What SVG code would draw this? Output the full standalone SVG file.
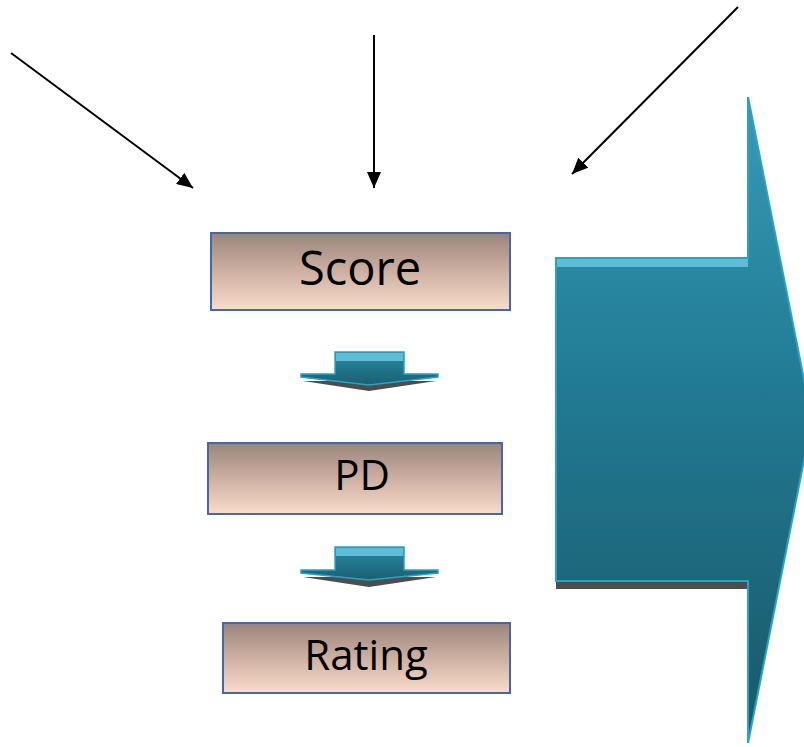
<svg xmlns="http://www.w3.org/2000/svg" width="804" height="747" viewBox="0 0 804 747">
<defs>
<linearGradient id="boxg" x1="0" y1="0" x2="0" y2="1">
<stop offset="0" stop-color="#9a857b"/>
<stop offset="0.5" stop-color="#cdb0a2"/>
<stop offset="1" stop-color="#fadccb"/>
</linearGradient>
<linearGradient id="bigg" gradientUnits="userSpaceOnUse" x1="0" y1="97" x2="0" y2="745">
<stop offset="0" stop-color="#379bb6"/>
<stop offset="0.45" stop-color="#217a93"/>
<stop offset="1" stop-color="#1a5767"/>
</linearGradient>
<linearGradient id="smallg" x1="0" y1="0" x2="0" y2="1">
<stop offset="0" stop-color="#2a8aa4"/>
<stop offset="1" stop-color="#1a5f73"/>
</linearGradient>
<marker id="ah" viewBox="0 0 10 10" refX="9" refY="5" markerWidth="8" markerHeight="8" markerUnits="userSpaceOnUse" orient="auto">
<path d="M0,0 L10,5 L0,10 z" fill="#000"/>
</marker>
<marker id="ah2" viewBox="0 0 16 14" refX="16" refY="7" markerWidth="16" markerHeight="14" markerUnits="userSpaceOnUse" orient="auto">
<path d="M0,0 L16,7 L0,14 z" fill="#000"/>
</marker>
</defs>
<style>
.box{fill:url(#boxg);stroke:#4468a6;stroke-width:2}
.lbl{font-family:"Open Sans","Liberation Sans",sans-serif;fill:#000;text-anchor:middle}
.conn{stroke:#000;stroke-width:2;fill:none;marker-end:url(#ah2)}
.sa{fill:url(#smallg);stroke:#2aa3c3;stroke-width:1.5}
.band{fill:#5fbcd5}
.shadow{fill:#4d4d4d}
</style>

<g id="connectors">
<line class="conn" x1="11" y1="53" x2="193" y2="188"/>
<line class="conn" x1="374" y1="35" x2="374" y2="188"/>
<line class="conn" x1="738" y1="7" x2="572" y2="174"/>
</g>

<g id="big-arrow">
<rect class="shadow" x="556" y="581" width="192" height="8"/>
<polygon points="556,258 748,258 748,97 812,420 748,743 748,581 556,581" fill="url(#bigg)" stroke="#2aa3c3" stroke-width="2" stroke-linejoin="miter"/>
<rect class="band" x="557" y="259" width="191" height="8"/>
</g>

<g id="score">
<rect class="box" x="211" y="233" width="299" height="77"/>
<text class="lbl" x="360" y="285" font-size="47">Score</text>
</g>

<g id="arrow1">
<polygon class="shadow" points="303,381 436,381 369,391"/>
<polygon class="sa" points="335,352 404,352 404,374 438,374 438,377 369,385 301,377 301,374 335,374"/>
<rect class="band" x="336" y="353" width="67" height="8"/>
</g>

<g id="pd">
<rect class="box" x="208" y="443" width="294" height="71"/>
<text class="lbl" x="362" y="490" font-size="42">PD</text>
</g>

<g id="arrow2">
<polygon class="shadow" points="303,577 436,577 369,587"/>
<polygon class="sa" points="335,547 404,547 404,570 438,570 438,573 369,580 301,573 301,570 335,570"/>
<rect class="band" x="336" y="548" width="67" height="8"/>
</g>

<g id="rating">
<rect class="box" x="223" y="623" width="287" height="70"/>
<text class="lbl" x="366" y="670" font-size="42">Rating</text>
</g>
</svg>
